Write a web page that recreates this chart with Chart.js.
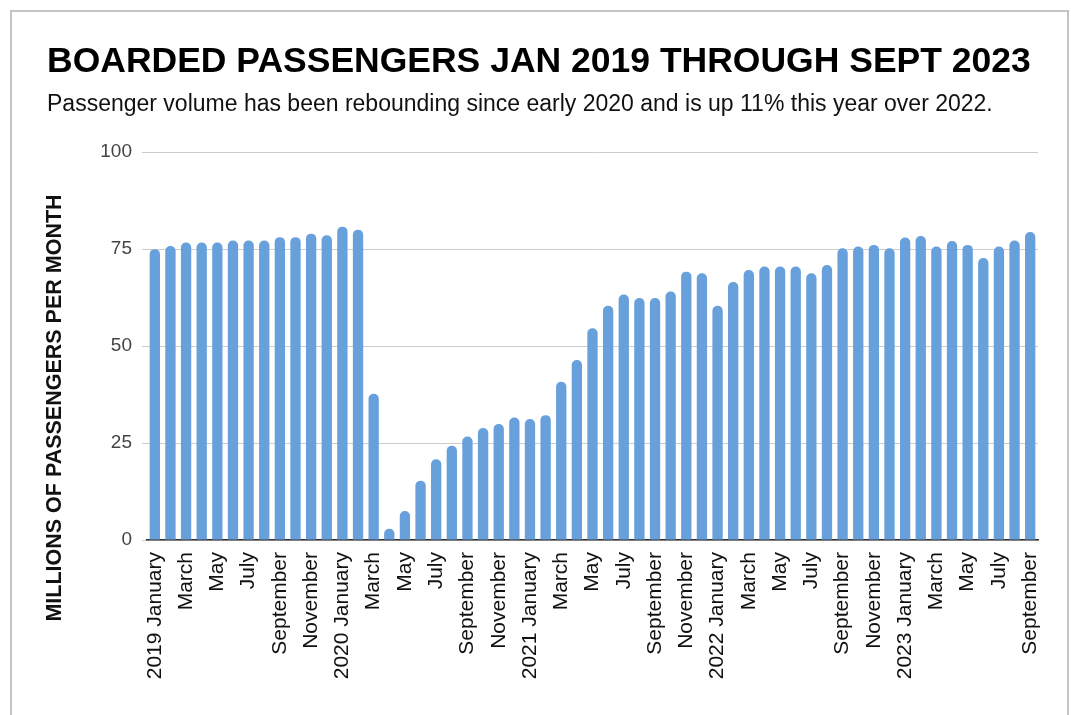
<!DOCTYPE html>
<html>
<head>
<meta charset="utf-8">
<script src="https://cdn.jsdelivr.net/npm/chart.js@4"></script>
<style>
  body { margin: 0; background: #fff; }
  #chart { position: absolute; left: 0; top: 0; }
  #frame {
    position: absolute; left: 10px; top: 10px; width: 1055px; height: 720px;
    border: 2px solid #c4c4c4; border-bottom: none; pointer-events: none;
  }
</style>
</head>
<body>
<canvas id="chart" width="1071" height="715"></canvas>
<div id="frame"></div>
<script>
// Bulan dan tahun untuk label sumbu X
const monthNames = ['January', 'February', 'March', 'April', 'May', 'June',
  'July', 'August', 'September', 'October', 'November', 'December'];
const years = [2019, 2020, 2021, 2022, 2023];

// Penumpang per bulan (juta)
const pax2019 = [75.0, 75.8, 76.7, 76.7, 76.7, 77.2, 77.2, 77.2, 78.1, 78.1, 79.0, 78.6];
const pax2020 = [80.8, 80.0, 37.7, 2.9, 7.5, 15.3, 20.8, 24.3, 26.7, 28.9, 29.9, 31.6];
const pax2021 = [31.2, 32.2, 40.8, 46.4, 54.6, 60.4, 63.3, 62.4, 62.4, 64.1, 69.2, 68.8];
const pax2022 = [60.4, 66.5, 69.6, 70.5, 70.5, 70.5, 68.8, 70.9, 75.2, 75.7, 76.1, 75.2];
const pax2023 = [78.0, 78.4, 75.7, 77.1, 76.1, 72.7, 75.7, 77.2, 79.4];

const yTicks = [0, 25, 50, 75, 100];

const paxByYear = [pax2019, pax2020, pax2021, pax2022, pax2023];
const labels = [];
const values = [];
paxByYear.forEach((list, yi) => {
  list.forEach((v, mi) => {
    labels.push(mi === 0 ? years[yi] + ' ' + monthNames[mi] : monthNames[mi]);
    values.push(v);
  });
});

const FONT = '"Liberation Sans", Arial, Helvetica, sans-serif';

// Judul sumbu Y digambar manual supaya posisinya pas
const yTitlePlugin = {
  id: 'yTitle',
  afterDraw(chart) {
    const ctx = chart.ctx;
    ctx.save();
    ctx.translate(55, 408);
    ctx.rotate(-Math.PI / 2);
    ctx.font = 'bold 21.5px ' + FONT;
    ctx.fillStyle = '#111';
    ctx.textAlign = 'center';
    ctx.textBaseline = 'middle';
    ctx.fillText('MILLIONS OF PASSENGERS PER MONTH', 0, 0);
    ctx.restore();
  }
};

new Chart(document.getElementById('chart'), {
  type: 'bar',
  data: {
    labels: labels,
    datasets: [{
      data: values,
      backgroundColor: '#68a0db',
      borderRadius: { topLeft: 5, topRight: 5 },
      borderSkipped: 'bottom',
      categoryPercentage: 1,
      barPercentage: 0.66
    }]
  },
  options: {
    responsive: false,
    animation: false,
    layout: { padding: { top: 10, left: 47, right: 33, bottom: 0 } },
    plugins: {
      legend: { display: false },
      tooltip: { enabled: false },
      title: {
        display: true,
        text: 'BOARDED PASSENGERS JAN 2019 THROUGH SEPT 2023',
        align: 'start',
        color: '#000',
        font: { family: FONT, size: 35.5, weight: 'bold' },
        padding: { top: 31, bottom: 3 }
      },
      subtitle: {
        display: true,
        text: 'Passenger volume has been rebounding since early 2020 and is up 11% this year over 2022.',
        align: 'start',
        color: '#111',
        font: { family: FONT, size: 23 },
        padding: { top: 4, bottom: 34 }
      }
    },
    scales: {
      x: {
        grid: { display: false },
        border: { display: true, color: '#333', width: 1.5 },
        ticks: {
          autoSkip: false,
          minRotation: 90,
          maxRotation: 90,
          padding: 4,
          color: '#111',
          font: { family: FONT, size: 21 },
          callback: function (val, idx) {
            return idx % 2 === 0 ? this.getLabelForValue(val) : '';
          }
        },
        afterFit: (s) => { s.height = 175; }
      },
      y: {
        min: 0,
        max: 100,
        afterBuildTicks: (s) => { s.ticks = yTicks.map(v => ({ value: v })); },
        grid: { color: '#cccccc', lineWidth: 1, tickLength: 5 },
        border: { display: false },
        ticks: {
          padding: 10,
          color: '#444',
          font: { family: FONT, size: 19 }
        },
        afterFit: (s) => { s.width = 100; }
      }
    }
  },
  plugins: [yTitlePlugin]
});
</script>
</body>
</html>
